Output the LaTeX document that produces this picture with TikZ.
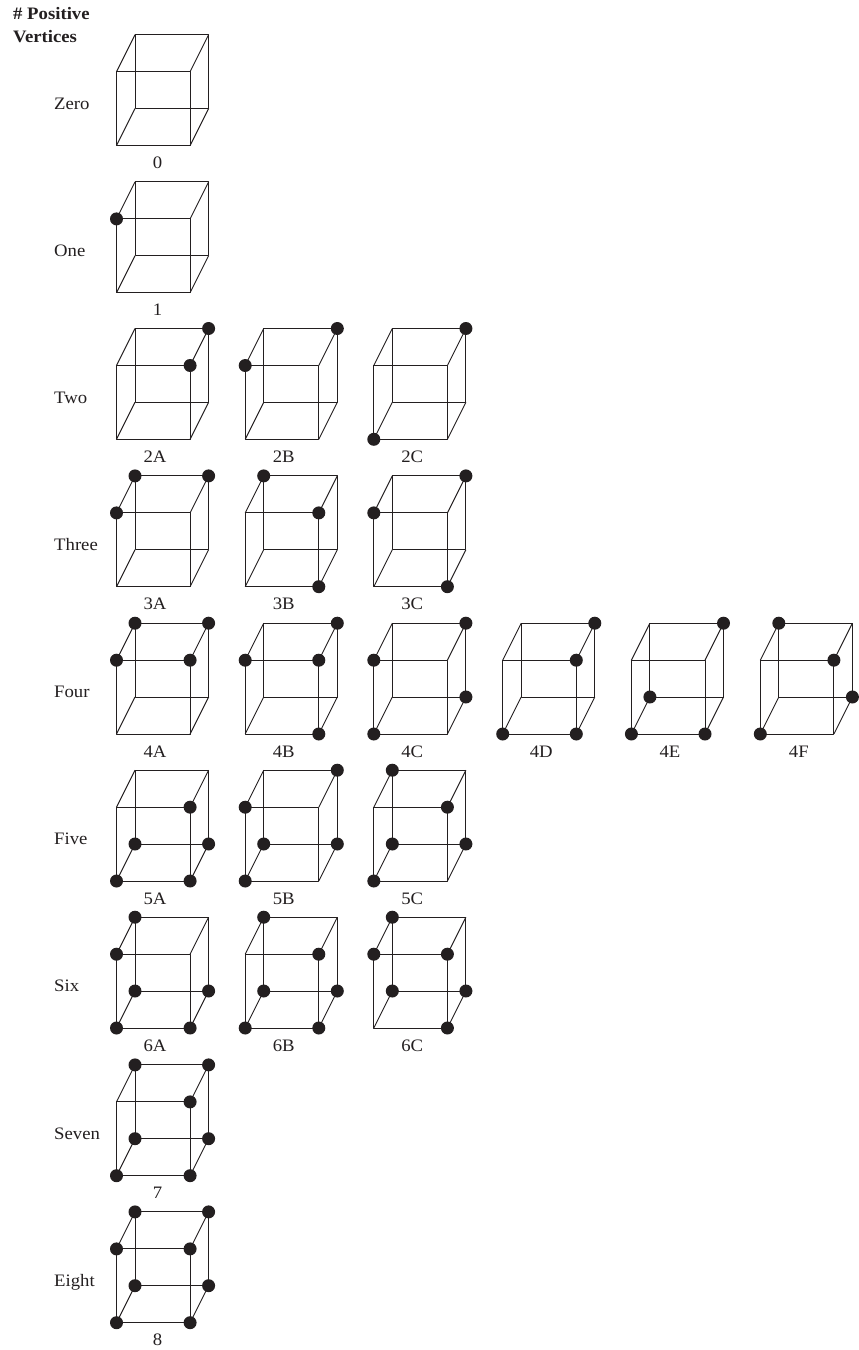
\documentclass[tikz,border=0pt]{standalone}
\usepackage{fontspec}
\setmainfont[FakeStretch=1.07]{Liberation Serif}
\definecolor{ink}{HTML}{231F20}
\tikzstyle{edge} = [draw=ink, line width=0.95pt, line join=round]
\tikzstyle{dot} = [circle, fill=ink, inner sep=0pt, minimum size=13pt]
\tikzstyle{rowname} = [anchor=base west, inner sep=0pt, text=ink, font=\fontsize{17.5}{20}\selectfont]
\tikzstyle{cubename} = [anchor=base, inner sep=0pt, text=ink, font=\fontsize{17.5}{20}\selectfont]
\tikzstyle{header} = [anchor=base west, inner sep=0pt, text=ink, font=\fontsize{17.5}{20}\selectfont\bfseries]
% [label x offset]{name}{front left x}{front bottom y}{dots}{label}
\newcommand{\drawcube}[6][38.5]{
    \coordinate (#2fbl) at (#3,#4);
    \coordinate (#2fbr) at (#3+73.6,#4);
    \coordinate (#2ftl) at (#3,#4-73.8);
    \coordinate (#2ftr) at (#3+73.6,#4-73.8);
    \coordinate (#2bbl) at (#3+18.5,#4-37);
    \coordinate (#2bbr) at (#3+92.1,#4-37);
    \coordinate (#2btl) at (#3+18.5,#4-110.8);
    \coordinate (#2btr) at (#3+92.1,#4-110.8);
    \draw [edge] (#2bbl) -- (#2bbr) -- (#2btr) -- (#2btl) -- cycle;
    \draw [edge] (#2fbl) -- (#2fbr) -- (#2ftr) -- (#2ftl) -- cycle;
    \draw [edge] (#2fbl) -- (#2bbl);
    \draw [edge] (#2fbr) -- (#2bbr);
    \draw [edge] (#2ftl) -- (#2btl);
    \draw [edge] (#2ftr) -- (#2btr);
    \foreach \v in {#5} \node [dot] (#2\v dot) at (#2\v) {};
    \node [cubename] (#2name) at (#3+#1,#4+23) {#6};
}
\begin{document}
\begin{tikzpicture}[x=1pt,y=-1pt]
    \useasboundingbox (0,0) rectangle (859,1350);
    \node [header] (head1) at (13,19) {\# Positive};
    \node [header] (head2) at (13,42) {Vertices};

    \node [rowname] (zero) at (54,109.5) {Zero};
    \drawcube[41]{a}{116.5}{145.5}{}{0}

    \node [rowname] (one) at (54,256.5) {One};
    \drawcube[41]{b}{116.5}{292.7}{ftl}{1}

    \node [rowname] (two) at (54,403) {Two};
    \drawcube{twoa}{116.5}{439.3}{btr,ftr}{2A}
    \drawcube{twob}{245.2}{439.3}{btr,ftl}{2B}
    \drawcube{twoc}{373.8}{439.3}{btr,fbl}{2C}

    \node [rowname] (three) at (54,550.3) {Three};
    \drawcube{threea}{116.5}{586.7}{btl,btr,ftl}{3A}
    \drawcube{threeb}{245.2}{586.7}{btl,ftr,fbr}{3B}
    \drawcube{threec}{373.8}{586.7}{btr,ftl,fbr}{3C}

    \node [rowname] (four) at (54,697.3) {Four};
    \drawcube{foura}{116.5}{734}{btl,btr,ftl,ftr}{4A}
    \drawcube{fourb}{245.2}{734}{btr,ftl,ftr,fbr}{4B}
    \drawcube{fourc}{373.8}{734}{btr,ftl,bbr,fbl}{4C}
    \drawcube{fourd}{502.7}{734}{btr,ftr,fbl,fbr}{4D}
    \drawcube{foure}{631.4}{734}{btr,bbl,fbl,fbr}{4E}
    \drawcube{fourf}{760.3}{734}{btl,ftr,bbr,fbl}{4F}

    \node [rowname] (five) at (54,844.5) {Five};
    \drawcube{fivea}{116.5}{881}{ftr,bbl,bbr,fbl,fbr}{5A}
    \drawcube{fiveb}{245.2}{881}{btr,ftl,bbl,bbr,fbl}{5B}
    \drawcube{fivec}{373.8}{881}{btl,ftr,bbl,bbr,fbl}{5C}

    \node [rowname] (six) at (54,991.5) {Six};
    \drawcube{sixa}{116.5}{1028}{btl,ftl,bbl,bbr,fbl,fbr}{6A}
    \drawcube{sixb}{245.2}{1028}{btl,ftr,bbl,bbr,fbl,fbr}{6B}
    \drawcube{sixc}{373.8}{1028}{btl,ftl,ftr,bbl,bbr,fbr}{6C}

    \node [rowname] (seven) at (54,1139.2) {Seven};
    \drawcube[41]{g}{116.5}{1175.7}{btl,btr,ftr,bbl,bbr,fbl,fbr}{7}

    \node [rowname] (eight) at (54,1286.2) {Eight};
    \drawcube[41]{h}{116.5}{1322.7}{btl,btr,ftl,ftr,bbl,bbr,fbl,fbr}{8}
\end{tikzpicture}
\end{document}
